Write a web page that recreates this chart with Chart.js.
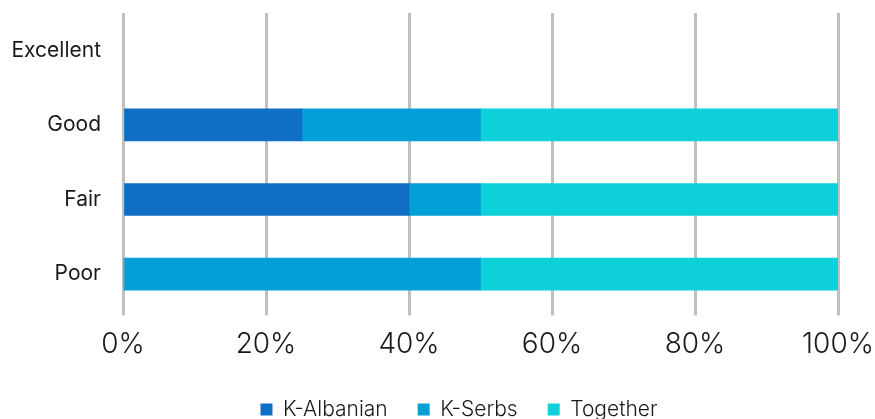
<!DOCTYPE html>
<html>
<head>
<meta charset="utf-8">
<script src="https://cdn.jsdelivr.net/npm/chart.js@4/dist/chart.umd.min.js"></script>
<style>
  html, body { margin: 0; padding: 0; background: #fff; }
  #wrap { width: 875px; height: 419px; position: relative; }
</style>
</head>
<body>
<div id="wrap"><canvas id="chart"></canvas></div>
<script>
"use strict";

const categories = ["Excellent", "Good", "Fair", "Poor"];
const kAlbanian = [null, 25, 40, 0];
const kSerbs = [null, 25, 10, 50];
const together = [null, 50, 50, 50];
const xTicks = [0, 20, 40, 60, 80, 100];

const FONT = "Inter, 'Open Sans', sans-serif";

// the legend sits a little right of the page centre in the original
const legendShift = {
  id: "legendShift",
  afterLayout(chart) {
    chart.legend.left += 40;
    chart.legend.right += 40;
  },
};

new Chart(document.getElementById("chart"), {
  type: "bar",
  data: {
    labels: categories,
    datasets: [
      { label: "K-Albanian", data: kAlbanian, backgroundColor: "#106ec6" },
      { label: "K-Serbs", data: kSerbs, backgroundColor: "#039fd7" },
      { label: "Together", data: together, backgroundColor: "#0dd0d8" },
    ],
  },
  options: {
    indexAxis: "y",
    responsive: true,
    maintainAspectRatio: false,
    animation: false,
    layout: { padding: { top: 13, right: 37, left: 0, bottom: -11 } },
    datasets: { bar: { barThickness: 32, categoryPercentage: 1 } },
    scales: {
      x: {
        stacked: true,
        min: 0,
        max: 100,
        afterBuildTicks: (s) => { s.ticks = xTicks.map((v) => ({ value: v })); },
        afterFit: (s) => { s.paddingLeft = 0; s.paddingRight = 0; s.height -= 4; },
        grid: { color: "#c0c0c0", lineWidth: 3, drawTicks: true, tickLength: 4, tickColor: "#c0c0c0" },
        border: { display: false },
        ticks: {
          padding: 12,
          color: "#1a1a1a",
          font: { family: FONT, size: 28, weight: "300" },
          callback: (v) => v + "%",
        },
      },
      y: {
        stacked: true,
        grid: { display: false, drawTicks: false },
        border: { display: false },
        afterFit: (s) => { s.width = 123; s.paddingTop = 0; s.paddingBottom = 0; },
        ticks: {
          padding: 22,
          color: "#1a1a1a",
          font: { family: FONT, size: 21 },
        },
      },
    },
    plugins: {
      legend: {
        position: "bottom",
        labels: {
          boxWidth: 12,
          boxHeight: 12,
          padding: 30,
          color: "#1a1a1a",
          font: { family: FONT, size: 21, weight: "300" },
        },
      },
      tooltip: { enabled: false },
    },
  },
  plugins: [legendShift],
});
</script>
</body>
</html>
